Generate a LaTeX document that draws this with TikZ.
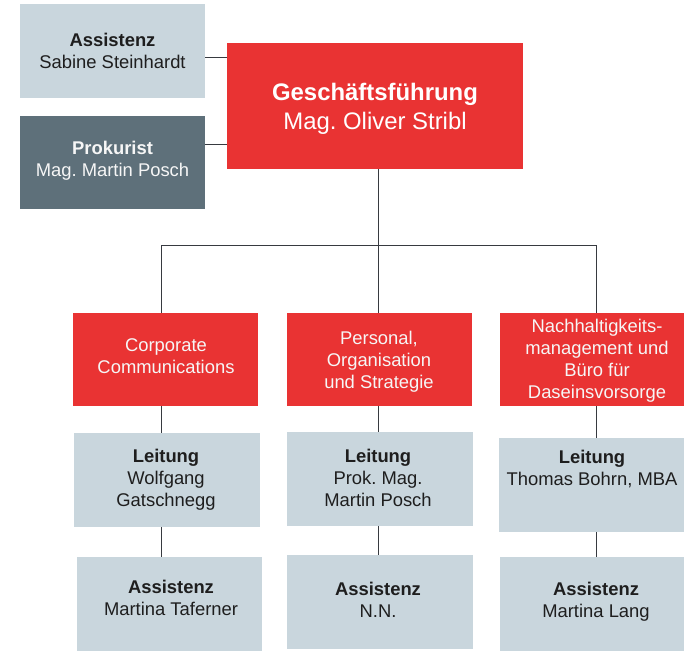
\documentclass[tikz,border=0pt]{standalone}
\usepackage{fontspec}
\setmainfont{Liberation Sans}
\frenchspacing
\definecolor{gfred}{RGB}{233,51,51}
\definecolor{lightbox}{RGB}{201,214,221}
\definecolor{darkbox}{RGB}{94,112,122}
\definecolor{txtdark}{RGB}{30,30,30}
\definecolor{txtlight}{RGB}{246,246,246}
\definecolor{linecol}{RGB}{55,58,64}
\begin{document}
\begin{tikzpicture}[x=1pt,y=-1pt,
  boxbase/.style={draw=none,anchor=north west,inner sep=0pt,outer sep=0pt},
  redbox/.style={boxbase,fill=gfred},
  lightbx/.style={boxbase,fill=lightbox},
  darkbx/.style={boxbase,fill=darkbox},
  txtbase/.style={anchor=base,align=center,inner sep=0pt,font=\fontsize{18.4}{22}\selectfont\frenchspacing},
  txtd/.style={txtbase,text=txtdark},
  txtw/.style={txtbase,text=txtlight},
  txtgf/.style={anchor=base,align=center,inner sep=0pt,text=white,font=\fontsize{23.9}{28.3}\selectfont\frenchspacing},
  conn/.style={draw=linecol,line width=1pt}
]
\useasboundingbox (0,0) rectangle (684,651);

% top boxes
\node[lightbx,minimum width=185pt,minimum height=94pt] (asst) at (20,4) {};
\node[darkbx,minimum width=185pt,minimum height=93pt] (prok) at (20,116) {};
\node[redbox,minimum width=296pt,minimum height=126pt] (gf) at (227,43) {};

% department boxes
\node[redbox,minimum width=185pt,minimum height=93pt] (cc) at (73,313) {};
\node[redbox,minimum width=185pt,minimum height=93pt] (pos) at (287,313) {};
\node[redbox,minimum width=184pt,minimum height=93pt] (nach) at (500,313) {};

% Leitung boxes
\node[lightbx,minimum width=186pt,minimum height=94pt] (l1) at (74,433) {};
\node[lightbx,minimum width=186pt,minimum height=94pt] (l2) at (287,432) {};
\node[lightbx,minimum width=185pt,minimum height=94pt] (l3) at (499,438) {};

% Assistenz boxes
\node[lightbx,minimum width=185pt,minimum height=94pt] (a1) at (77,557) {};
\node[lightbx,minimum width=186pt,minimum height=94pt] (a2) at (287,555) {};
\node[lightbx,minimum width=184pt,minimum height=94pt] (a3) at (500,557) {};

% texts (anchor base = baseline of the last line)
\node[txtd] (asstt) at (112.5,68.5) {\textbf{Assistenz}\\Sabine Steinhardt};
\node[txtw] (prokt) at (112.5,176) {\textbf{Prokurist}\\Mag. Martin Posch};
\node[txtgf] (gft) at (375,129) {\textbf{Geschäftsführung}\\Mag. Oliver Stribl};

\node[txtw] (cct) at (166,373.5) {Corporate\\Communications};
\node[txtw] (post) at (379,388) {Personal,\\Organisation\\und Strategie};
\node[txtw] (nacht) at (597,398) {Nachhaltigkeits-\\management und\\Büro für\\Daseinsvorsorge};

\node[txtd] (l1t) at (166,506.5) {\textbf{Leitung}\\Wolfgang\\Gatschnegg};
\node[txtd] (l2t) at (378,506.5) {\textbf{Leitung}\\Prok. Mag.\\Martin Posch};
\node[txtd] (l3t) at (592,485) {\textbf{Leitung}\\Thomas Bohrn, MBA};

\node[txtd] (a1t) at (171,615) {\textbf{Assistenz}\\Martina Taferner};
\node[txtd] (a2t) at (378,617) {\textbf{Assistenz}\\N.N.};
\node[txtd] (a3t) at (596,617) {\textbf{Assistenz}\\Martina Lang};

% connectors
\draw[conn] ([yshift=-6pt]asst.east) -- ([yshift=-6pt]asst.east -| gf.west);
\draw[conn] ([yshift=18.5pt]prok.east) -- ([yshift=18.5pt]prok.east -| gf.west);

\coordinate (b1) at (161,245);
\coordinate (b2) at (378,245);
\coordinate (b3) at (596,245);

\draw[conn] (gf.south -| b2) -- (b2);
\draw[conn] (b1) -- (b3);
\draw[conn] (b1) -- (b1 |- cc.north);
\draw[conn] (b2) -- (b2 |- pos.north);
\draw[conn] (b3) -- (b3 |- nach.north);

\draw[conn] (b1 |- cc.south) -- (b1 |- l1.north);
\draw[conn] (b2 |- pos.south) -- (b2 |- l2.north);
\draw[conn] (b3 |- nach.south) -- (b3 |- l3.north);

\draw[conn] (b1 |- l1.south) -- (b1 |- a1.north);
\draw[conn] (b2 |- l2.south) -- (b2 |- a2.north);
\draw[conn] (b3 |- l3.south) -- (b3 |- a3.north);
\end{tikzpicture}
\end{document}
